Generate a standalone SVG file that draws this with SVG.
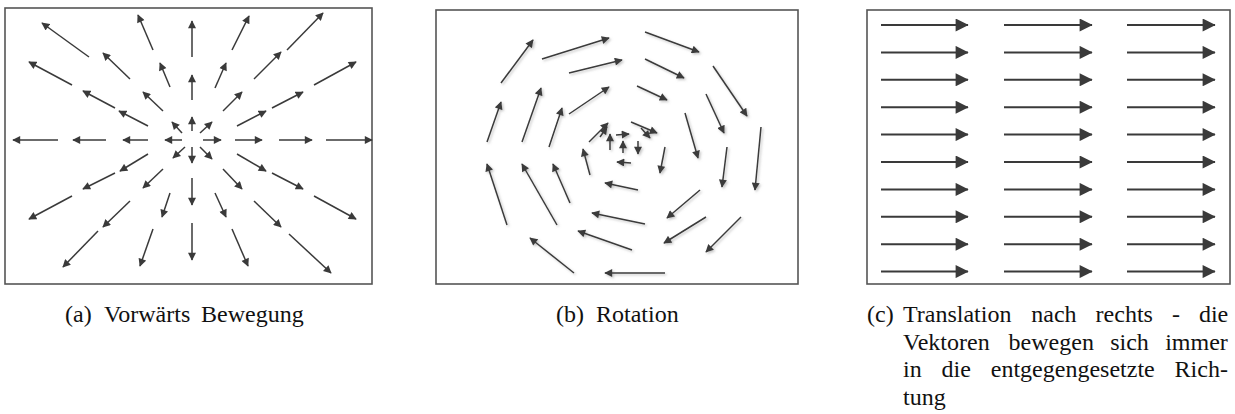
<svg xmlns="http://www.w3.org/2000/svg" width="1235" height="414" viewBox="0 0 1235 414">
<style>
.frame{fill:#fff;stroke:#555;stroke-width:1.6}
.v{stroke:#3a3a3a;stroke-width:1.5;fill:none;marker-end:url(#h)}
.t{stroke:#3a3a3a;stroke-width:2;fill:none;marker-end:url(#hb)}
.cap{font-family:'Liberation Serif',serif;font-size:24px;fill:#111}
</style>
<defs>
<marker id="h" viewBox="0 0 10 10" refX="9" refY="5" markerWidth="9" markerHeight="8" markerUnits="userSpaceOnUse" orient="auto"><path d="M0,0 L10,5 L0,10 z" fill="#3a3a3a"/></marker>
<marker id="hb" viewBox="0 0 10 10" refX="9.5" refY="5" markerWidth="18" markerHeight="13" markerUnits="userSpaceOnUse" orient="auto"><path d="M0,0 L10,5 L0,10 z" fill="#3a3a3a"/></marker>
<filter id="sh" x="-20%" y="-20%" width="140%" height="140%"><feDropShadow dx="1.5" dy="1.5" stdDeviation="1" flood-color="#888" flood-opacity="0.5"/></filter>
</defs>
<rect width="1235" height="414" fill="#fff"/>

<g id="panel-a">
<rect class="frame" x="5" y="8" width="367" height="276"/>
<g id="field-a">
<line class="v" x1="89" y1="57" x2="42" y2="23"/>
<line class="v" x1="72" y1="85" x2="29" y2="62"/>
<line class="v" x1="130" y1="79" x2="103" y2="53"/>
<line class="v" x1="115" y1="108" x2="83" y2="91"/>
<line class="v" x1="148" y1="126" x2="119" y2="111"/>
<line class="v" x1="163" y1="111" x2="143" y2="92"/>
<line class="v" x1="182" y1="133" x2="172" y2="122"/>
<line class="v" x1="153" y1="50" x2="138" y2="15"/>
<line class="v" x1="170" y1="87" x2="160" y2="63"/>
<line class="v" x1="192" y1="57" x2="192" y2="21"/>
<line class="v" x1="192" y1="100" x2="192" y2="75"/>
<line class="v" x1="192" y1="131" x2="192" y2="117"/>
<line class="v" x1="58" y1="140" x2="13" y2="140"/>
<line class="v" x1="106" y1="140" x2="73" y2="140"/>
<line class="v" x1="148" y1="140" x2="123" y2="140"/>
<line class="v" x1="182" y1="140" x2="165" y2="140"/>
<line class="v" x1="232" y1="50" x2="249" y2="16"/>
<line class="v" x1="287" y1="50" x2="323" y2="13"/>
<line class="v" x1="215" y1="88" x2="226" y2="63"/>
<line class="v" x1="254" y1="79" x2="281" y2="52"/>
<line class="v" x1="314" y1="85" x2="356" y2="62"/>
<line class="v" x1="223" y1="111" x2="242" y2="92"/>
<line class="v" x1="272" y1="108" x2="303" y2="92"/>
<line class="v" x1="237" y1="126" x2="266" y2="111"/>
<line class="v" x1="200" y1="133" x2="212" y2="122"/>
<line class="v" x1="203" y1="140" x2="221" y2="140"/>
<line class="v" x1="235" y1="140" x2="262" y2="140"/>
<line class="v" x1="279" y1="140" x2="312" y2="140"/>
<line class="v" x1="326" y1="140" x2="372" y2="140"/>
<line class="v" x1="148" y1="154" x2="120" y2="171"/>
<line class="v" x1="115" y1="173" x2="83" y2="189"/>
<line class="v" x1="72" y1="196" x2="29" y2="219"/>
<line class="v" x1="163" y1="169" x2="143" y2="188"/>
<line class="v" x1="130" y1="201" x2="103" y2="227"/>
<line class="v" x1="98" y1="231" x2="63" y2="267"/>
<line class="v" x1="170" y1="193" x2="162" y2="217"/>
<line class="v" x1="153" y1="229" x2="140" y2="266"/>
<line class="v" x1="185" y1="147" x2="173" y2="158"/>
<line class="v" x1="192" y1="147" x2="192" y2="163"/>
<line class="v" x1="192" y1="178" x2="192" y2="205"/>
<line class="v" x1="192" y1="223" x2="192" y2="260"/>
<line class="v" x1="200" y1="147" x2="212" y2="159"/>
<line class="v" x1="237" y1="154" x2="266" y2="171"/>
<line class="v" x1="272" y1="173" x2="303" y2="189"/>
<line class="v" x1="314" y1="196" x2="356" y2="219"/>
<line class="v" x1="223" y1="169" x2="242" y2="189"/>
<line class="v" x1="254" y1="201" x2="281" y2="227"/>
<line class="v" x1="289" y1="234" x2="331" y2="273"/>
<line class="v" x1="215" y1="193" x2="226" y2="217"/>
<line class="v" x1="232" y1="229" x2="248" y2="266"/>
</g>
</g>

<g id="panel-b">
<rect class="frame" x="436" y="10" width="362" height="274"/>
<g id="field-b" filter="url(#sh)">
<line class="v" x1="501" y1="83" x2="533" y2="40"/>
<line class="v" x1="542" y1="59" x2="609" y2="38"/>
<line class="v" x1="569" y1="73" x2="622" y2="60"/>
<line class="v" x1="487" y1="142" x2="501" y2="102"/>
<line class="v" x1="522" y1="142" x2="541" y2="88"/>
<line class="v" x1="549" y1="147" x2="562" y2="108"/>
<line class="v" x1="569" y1="114" x2="609" y2="87"/>
<line class="v" x1="589" y1="142" x2="608" y2="123"/>
<line class="v" x1="645" y1="32" x2="699" y2="52"/>
<line class="v" x1="645" y1="59" x2="684" y2="78"/>
<line class="v" x1="637" y1="86" x2="667" y2="100"/>
<line class="v" x1="713" y1="66" x2="747" y2="116"/>
<line class="v" x1="706" y1="94" x2="724" y2="133"/>
<line class="v" x1="631" y1="122" x2="657" y2="133"/>
<line class="v" x1="685" y1="113" x2="698" y2="158"/>
<line class="v" x1="761" y1="127" x2="755" y2="190"/>
<line class="v" x1="727" y1="147" x2="722" y2="187"/>
<line class="v" x1="665" y1="147" x2="660" y2="173"/>
<line class="v" x1="638" y1="190" x2="605" y2="183"/>
<line class="v" x1="645" y1="224" x2="592" y2="213"/>
<line class="v" x1="632" y1="250" x2="578" y2="231"/>
<line class="v" x1="665" y1="273" x2="605" y2="273"/>
<line class="v" x1="700" y1="190" x2="667" y2="218"/>
<line class="v" x1="706" y1="217" x2="664" y2="243"/>
<line class="v" x1="741" y1="217" x2="706" y2="252"/>
<line class="v" x1="507" y1="225" x2="487" y2="164"/>
<line class="v" x1="557" y1="225" x2="522" y2="164"/>
<line class="v" x1="570" y1="203" x2="553" y2="164"/>
<line class="v" x1="590" y1="175" x2="583" y2="149"/>
<line class="v" x1="574" y1="273" x2="530" y2="238"/>
<line class="v" x1="610" y1="150" x2="610" y2="134"/>
<line class="v" x1="616" y1="135" x2="629" y2="134"/>
<line class="v" x1="638" y1="141" x2="638" y2="154"/>
<line class="v" x1="631" y1="163" x2="617" y2="162"/>
<line class="v" x1="600" y1="137" x2="607" y2="127"/>
<line class="v" x1="641" y1="128" x2="650" y2="138"/>
<line class="v" x1="623" y1="153" x2="623" y2="141"/>
</g>
</g>

<g id="panel-c">
<rect class="frame" x="867" y="10" width="363" height="274"/>
<g id="field-c">
<path class="t" d="M881,25H968"/><path class="t" d="M1004,25H1092"/><path class="t" d="M1127,25H1215"/>
<path class="t" d="M881,52.4H968"/><path class="t" d="M1004,52.4H1092"/><path class="t" d="M1127,52.4H1215"/>
<path class="t" d="M881,79.8H968"/><path class="t" d="M1004,79.8H1092"/><path class="t" d="M1127,79.8H1215"/>
<path class="t" d="M881,107.2H968"/><path class="t" d="M1004,107.2H1092"/><path class="t" d="M1127,107.2H1215"/>
<path class="t" d="M881,134.6H968"/><path class="t" d="M1004,134.6H1092"/><path class="t" d="M1127,134.6H1215"/>
<path class="t" d="M881,162H968"/><path class="t" d="M1004,162H1092"/><path class="t" d="M1127,162H1215"/>
<path class="t" d="M881,189.4H968"/><path class="t" d="M1004,189.4H1092"/><path class="t" d="M1127,189.4H1215"/>
<path class="t" d="M881,216.8H968"/><path class="t" d="M1004,216.8H1092"/><path class="t" d="M1127,216.8H1215"/>
<path class="t" d="M881,244.2H968"/><path class="t" d="M1004,244.2H1092"/><path class="t" d="M1127,244.2H1215"/>
<path class="t" d="M881,271.6H968"/><path class="t" d="M1004,271.6H1092"/><path class="t" d="M1127,271.6H1215"/>
</g>
</g>

<g id="caption-a" class="cap">
<text x="65" y="322">(a)</text>
<text x="104" y="322">Vorwärts</text>
<text x="201" y="322">Bewegung</text>
</g>
<g id="caption-b" class="cap">
<text x="556" y="322">(b)</text>
<text x="596" y="322">Rotation</text>
</g>
<g id="caption-c" class="cap">
<text x="867" y="322">(c)</text>
<text x="903" y="322">Translation</text>
<text x="1031.3" y="322">nach</text>
<text x="1095.6" y="322">rechts</text>
<text x="1171.9" y="322">-</text>
<text x="1198.9" y="322">die</text>
<text x="903" y="349.5">Vektoren</text>
<text x="1008.6" y="349.5">bewegen</text>
<text x="1110.2" y="349.5">sich</text>
<text x="1165.2" y="349.5">immer</text>
<text x="903" y="377">in</text>
<text x="941.6" y="377">die</text>
<text x="990.8" y="377">entgegengesetzte</text>
<text x="1174.6" y="377">Rich-</text>
<text x="903" y="404.5">tung</text>
</g>
</svg>
